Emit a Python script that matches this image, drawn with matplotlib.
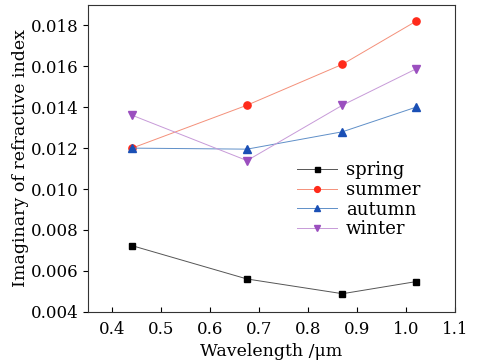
import matplotlib.pyplot as plt

plt.rcParams['font.family'] = ['DejaVu Serif']

wavelength = [0.44, 0.675, 0.87, 1.02]
spring = [0.00723, 0.0056, 0.00488, 0.00547]
summer = [0.0120, 0.0141, 0.0161, 0.0182]
autumn = [0.0120, 0.01195, 0.0128, 0.0140]
winter = [0.01361, 0.01139, 0.0141, 0.01587]

fig = plt.figure(figsize=(4.78, 3.64), dpi=100)
ax = fig.add_axes([88/478, 1 - 311.7/364, (455-88)/478, (311.7-5)/364])

ax.plot(wavelength, spring, '-s', color='#555555', mfc='black', mec='black', ms=4.5, lw=0.7, label='spring')
ax.plot(wavelength, summer, '-o', color='#f4907a', mfc='#ff2a1a', mec='#ff2a1a', ms=5.2, lw=0.7, label='summer')
ax.plot(wavelength, autumn, '-^', color='#5f8fc8', mfc='#1a4fb5', mec='#1a4fb5', ms=5.5, lw=0.7, label='autumn')
ax.plot(wavelength, winter, '-v', color='#c79ad8', mfc='#9b4fbf', mec='#9b4fbf', ms=5.5, lw=0.7, label='winter')

ax.set_xlim(0.35, 1.1)
ax.set_ylim(0.004, 0.019)
ax.set_xticks([0.4, 0.5, 0.6, 0.7, 0.8, 0.9, 1.0, 1.1])
ax.set_xticklabels(['0.4', '0.5', '0.6', '0.7', '0.8', '0.9', '1.0', '1.1'])
ax.set_yticks([0.004, 0.006, 0.008, 0.010, 0.012, 0.014, 0.016, 0.018])
ax.set_yticklabels(['0.004', '0.006', '0.008', '0.010', '0.012', '0.014', '0.016', '0.018'])
ax.tick_params(axis='x', direction='in', labelsize=12, pad=7)
ax.tick_params(axis='y', direction='out', labelsize=12)
for s in ax.spines.values():
    s.set_color('#333333')

ax.set_xlabel('Wavelength /μm', fontsize=12.5, labelpad=3)
ax.set_ylabel('Imaginary of refractive index', fontsize=12.5, labelpad=1)

leg = ax.legend(loc='center left', bbox_to_anchor=(0.55, 0.365), frameon=False, fontsize=13,
                handlelength=2.2, labelspacing=0.1, handletextpad=0.5, borderaxespad=0,
                markerscale=0.8)

fig.savefig('out.png', dpi=100)
